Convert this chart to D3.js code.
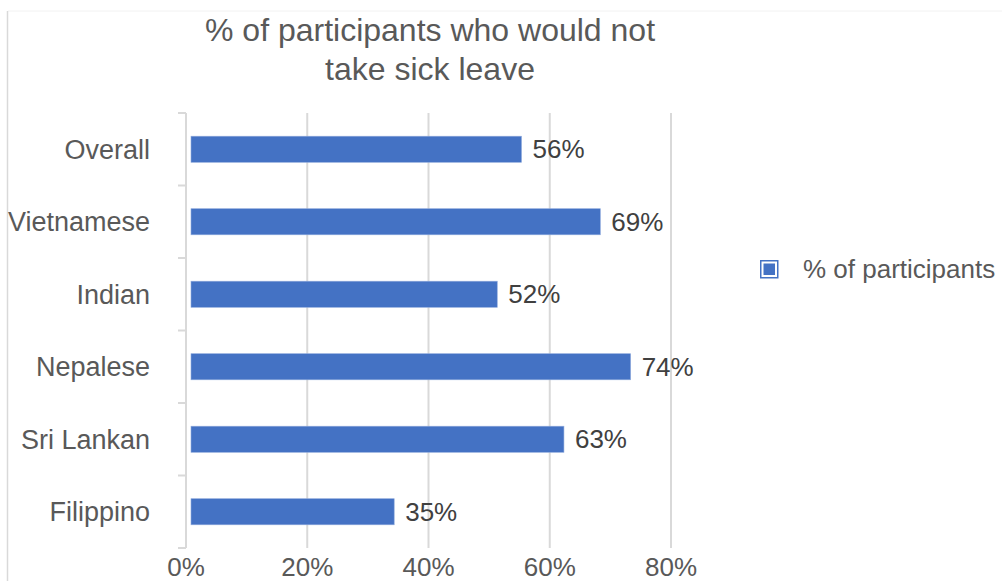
<!DOCTYPE html>
<html>
<head>
<meta charset="utf-8">
<script src="https://cdn.jsdelivr.net/npm/d3@7"></script>
<style>
  body { margin: 0; background: #fff; }
  text { font-family: "Liberation Sans", Arial, sans-serif; }
</style>
</head>
<body>
<div id="chart"></div>
<script>
const categories = ["Overall", "Vietnamese", "Indian", "Nepalese", "Sri Lankan", "Filippino"];
const values = [56, 69, 52, 74, 63, 35];
const xTicks = [0, 20, 40, 60, 80];
const titleLines = ["% of participants who would not", "take sick leave"];
const seriesName = "% of participants";

let width = 1003;
let height = 581;
let barColor = "#4472C4";

// remove previous svg content
d3.select("#chart").select("svg").remove();

const svg = d3
  .select("#chart")
  .append("svg")
  .attr("width", width)
  .attr("height", height);

// chart frame (left + faint top)
svg.append("line")
  .attr("x1", 8).attr("x2", 1002).attr("y1", 11).attr("y2", 11)
  .attr("stroke", "#f2f2f2").attr("stroke-width", 1);
svg.append("line")
  .attr("x1", 7.5).attr("x2", 7.5).attr("y1", 11).attr("y2", height)
  .attr("stroke", "#d9d9d9").attr("stroke-width", 1.5);

const x = d3.scaleLinear().domain([0, 80]).range([186, 671]);
const y = d3.scaleBand().domain(categories).range([113, 548])
  .paddingInner(0.64).paddingOuter(0.32);

// title
svg.append("text")
  .attr("x", 430)
  .attr("text-anchor", "middle")
  .attr("font-size", "32px")
  .attr("fill", "#595959")
  .selectAll("tspan")
  .data(titleLines)
  .enter()
  .append("tspan")
  .attr("x", 430)
  .attr("y", (d, i) => 41 + i * 39)
  .text(d => d);

// gridlines
svg.append("g")
  .selectAll("line")
  .data(xTicks.slice(1))
  .enter()
  .append("line")
  .attr("x1", d => x(d)).attr("x2", d => x(d))
  .attr("y1", 113).attr("y2", 548)
  .attr("stroke", "#d9d9d9")
  .attr("stroke-width", 2);

// y axis with ticks between categories
const step = y.step();
const bounds = d3.range(categories.length + 1).map(i => 113 + i * step);
svg.append("line")
  .attr("x1", x(0)).attr("x2", x(0))
  .attr("y1", 113).attr("y2", 548)
  .attr("stroke", "#d9d9d9").attr("stroke-width", 2);
svg.append("g")
  .selectAll("line")
  .data(bounds)
  .enter()
  .append("line")
  .attr("x1", x(0) - 8).attr("x2", x(0))
  .attr("y1", d => d).attr("y2", d => d)
  .attr("stroke", "#d9d9d9").attr("stroke-width", 2);

// category labels
svg.append("g")
  .selectAll("text")
  .data(categories)
  .enter()
  .append("text")
  .attr("x", 150)
  .attr("y", d => y(d) + y.bandwidth() / 2)
  .attr("dy", "0.35em")
  .attr("text-anchor", "end")
  .attr("font-size", "27px")
  .attr("fill", "#595959")
  .text(d => d);

// x tick labels (the reference clips them at the bottom edge)
svg.append("g")
  .selectAll("text")
  .data(xTicks)
  .enter()
  .append("text")
  .attr("x", d => x(d))
  .attr("y", 576)
  .attr("text-anchor", "middle")
  .attr("font-size", "26px")
  .attr("fill", "#595959")
  .text(d => d + "%");

// bars
svg.append("g")
  .selectAll("rect")
  .data(values)
  .enter()
  .append("rect")
  .attr("x", x(0) + 5)
  .attr("y", (d, i) => y(categories[i]))
  .attr("width", d => x(d) - x(0) - 9)
  .attr("height", y.bandwidth())
  .attr("fill", barColor)
  .attr("stroke", "#8faadc")
  .attr("stroke-width", 0.6);

// data labels
svg.append("g")
  .selectAll("text")
  .data(values)
  .enter()
  .append("text")
  .attr("x", d => x(d) + 7)
  .attr("y", (d, i) => y(categories[i]) + y.bandwidth() / 2)
  .attr("dy", "0.35em")
  .attr("font-size", "26px")
  .attr("fill", "#404040")
  .text(d => d + "%");

// legend
const legend = svg.append("g").attr("transform", "translate(760, 260)");
legend.append("rect")
  .attr("x", 0.75).attr("y", 0.75)
  .attr("width", 17).attr("height", 17)
  .attr("fill", "none")
  .attr("stroke", barColor)
  .attr("stroke-width", 1.5);
legend.append("rect")
  .attr("x", 3.5).attr("y", 3.5)
  .attr("width", 11.5).attr("height", 11.5)
  .attr("fill", barColor);
legend.append("text")
  .attr("x", 43)
  .attr("y", 9)
  .attr("dy", "0.35em")
  .attr("font-size", "26px")
  .attr("fill", "#595959")
  .text(seriesName);
</script>
</body>
</html>
